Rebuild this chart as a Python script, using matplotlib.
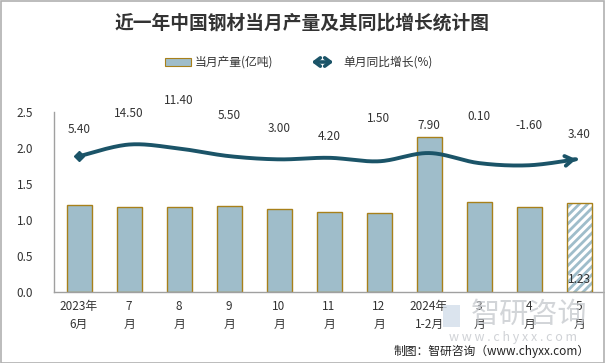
import numpy as np
import matplotlib
matplotlib.use("Agg")
import matplotlib.pyplot as plt
from matplotlib.patches import Rectangle, FancyArrowPatch

plt.rcParams['font.family'] = ['Noto Sans CJK SC', 'DejaVu Sans']
plt.rcParams['hatch.linewidth'] = 2.0

categories = ["2023年\n6月", "7\n月", "8\n月", "9\n月", "10\n月", "11\n月", "12\n月",
              "2024年\n1-2月", "3\n月", "4\n月", "5\n月"]
output = [1.20, 1.18, 1.18, 1.19, 1.15, 1.11, 1.09, 2.15, 1.25, 1.18, 1.23]
growth = [5.40, 14.50, 11.40, 5.50, 3.00, 4.20, 1.50, 7.90, 0.10, -1.60, 3.40]
yticks = [0.0, 0.5, 1.0, 1.5, 2.0, 2.5]

# label vertical offsets (px above line point) - layout only
label_dy = [27, 31, 48, 41, 31, 21, 43, 28, 47, 40, 24]

W, H = 605, 363
fig = plt.figure(figsize=(W / 100, H / 100), dpi=100)
fig.patch.set_facecolor('white')
fig.patches.append(Rectangle((0.5 / W, 0.5 / H), 1 - 1.5 / W, 1 - 1.5 / H, transform=fig.transFigure,
                             fill=False, edgecolor='#b0b0b0', lw=1.2))

# watermark (behind the chart)
fig.patches.append(Rectangle((443 / W, 1 - 327 / H), 17 / W, 22 / H, transform=fig.transFigure,
                             facecolor='#d3deea', edgecolor='none', alpha=0.8, zorder=0))
fig.text(529 / W, 1 - 315 / H, "智研咨询", ha='center', va='center', fontsize=21, color='#c4c7cc',
         alpha=0.75, zorder=0)
fig.text(513 / W, 1 - 337 / H, "w w w . c h y x x . c o m", ha='center', va='center', fontsize=9,
         color='#c4c7cc', alpha=0.8, zorder=0)

ax = fig.add_axes([54 / W, 71 / H, 550 / W, 180.3 / H])
ax.patch.set_alpha(0)
x = np.arange(len(categories))
bar_face = '#9FBDCA'
bar_edge = '#A8801A'
n = len(x)
ax.bar(x[:-1], output[:-1], width=0.5, color=bar_face, edgecolor=bar_edge, linewidth=1.0, zorder=2)
# hatched last bar: hatch in light blue, outline in gold
ax.bar(x[-1:], output[-1:], width=0.5, color='white', edgecolor=bar_face, hatch='////', linewidth=0, zorder=2)
ax.bar(x[-1:], output[-1:], width=0.5, fill=False, edgecolor=bar_edge, linewidth=1.0, zorder=3)
ax.set_xlim(-0.5, n - 0.5)
ax.set_ylim(0, 2.5)
ax.set_yticks(yticks)
ax.set_yticklabels([f"{v:.1f}" for v in yticks])
ax.set_xticks(x)
ax.set_xticklabels(categories, linespacing=1.5)
ax.tick_params(axis='both', length=0, labelsize=8.5, colors='#333333')
ax.tick_params(axis='y', pad=15)
ax.tick_params(axis='x', pad=6)
for s in ['top', 'right']:
    ax.spines[s].set_visible(False)
for s in ['left', 'bottom']:
    ax.spines[s].set_color('#a0a0a0')
    ax.spines[s].set_linewidth(1.0)

# last bar value label
ax.text(x[-1], 0.18, f"{output[-1]:.2f}", ha='center', va='center', fontsize=8.5, color='#333333', zorder=5)

# secondary axis for growth
ax2 = ax.twinx()
ax2.set_ylim(-100, 40)
ax2.set_yticks([])
for s in ax2.spines.values():
    s.set_visible(False)

line_color = '#1B5468'
gy = np.array(growth, dtype=float)
# Catmull-Rom smoothing for drawing
pts = np.column_stack([x, gy])
ext = np.vstack([pts[0], pts, pts[-1]])
sx, sy = [], []
for i in range(len(pts) - 1):
    p0, p1, p2, p3 = ext[i], ext[i + 1], ext[i + 2], ext[i + 3]
    t = np.linspace(0, 1, 30)[:, None]
    c = 0.5 * ((2 * p1) + (-p0 + p2) * t + (2 * p0 - 5 * p1 + 4 * p2 - p3) * t ** 2 +
               (-p0 + 3 * p1 - 3 * p2 + p3) * t ** 3)
    sx.extend(c[:, 0]); sy.extend(c[:, 1])
sx = np.array(sx); sy = np.array(sy)
ax2.plot(sx[:-4], sy[:-4], color=line_color, lw=2.8, solid_capstyle='round', zorder=4)
ax2.plot([x[0]], [gy[0]], marker='D', ms=5.5, color=line_color, zorder=4)
ax2.annotate('', xy=(sx[-1], sy[-1]), xytext=(sx[-6], sy[-6]),
             arrowprops=dict(arrowstyle='->,head_length=0.55,head_width=0.35', color=line_color, lw=2.8),
             zorder=4)

for i, v in enumerate(growth):
    ax2.annotate(f"{v:.2f}", xy=(x[i], v), xytext=(0, label_dy[i] * 0.72), textcoords='offset points',
                 ha='center', va='center', fontsize=8.5, color='#333333')

# title
fig.text(0.5, 1 - 23 / H, "近一年中国钢材当月产量及其同比增长统计图", ha='center', va='center',
         fontsize=13.5, fontweight='bold', color='#333333')

# legend (manual)
fig.patches.append(Rectangle((165 / W, 1 - 66 / H), 26 / W, 8 / H, transform=fig.transFigure,
                             facecolor=bar_face, edgecolor=bar_edge, lw=0.8))
fig.text(195 / W, 1 - 62 / H, "当月产量(亿吨)", ha='left', va='center', fontsize=8.5, color='#333333')
fig.patches.append(FancyArrowPatch((309 / W, 1 - 62 / H), (336 / W, 1 - 62 / H), transform=fig.transFigure,
                                   arrowstyle='<->,head_length=4,head_width=3', color=line_color, lw=2.6,
                                   mutation_scale=1))
fig.text(343 / W, 1 - 62 / H, "单月同比增长(%)", ha='left', va='center', fontsize=8.5, color='#333333')

# footer
fig.text(590 / W, 1 - 351 / H, "制图：智研咨询（www.chyxx.com）", ha='right', va='center', fontsize=8.5, color='#222222')

fig.savefig('out.png', dpi=100)
